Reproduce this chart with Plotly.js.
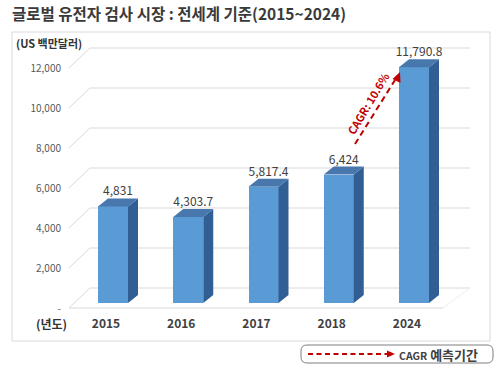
<!DOCTYPE html>
<html>
<head>
<meta charset="utf-8">
<script src="https://cdn.plot.ly/plotly-3.0.1.min.js"></script>
<style>html,body{margin:0;padding:0;background:#fff;}#chart{width:500px;height:371px;}</style>
</head>
<body>
<div id="chart"></div>
<script>
// ---- data ----
const years = ['2015', '2016', '2017', '2018', '2024'];
const values = [4831, 4303.7, 5817.4, 6424, 11790.8];
const valueLabels = ['4,831', '4,303.7', '5,817.4', '6,424', '11,790.8'];
const yTickVals = [0, 2000, 4000, 6000, 8000, 10000, 12000];
const yTickText = ['-', '2,000', '4,000', '6,000', '8,000', '10,000', '12,000'];
const titleText = '글로벌 유전자 검사 시장 : 전세계 기준(2015~2024)';
const unitText = '(US 백만달러)';
const yearText = '(년도)';
const cagrText = 'CAGR: 10.6%';
const legendText = '<span style="font-size:10.5px">CAGR</span> 예측기간';

// ---- geometry ----
const FW = 500, FH = 371;
const L = 62, R = 480, T = 40, B = 315;
const PW = R - L, PH = B - T;
const xPx = 75.25, x0Px = 113;      // px per category, px of first category center
const yPx = 0.02, y0Px = 303;       // px per unit, px of value 0
const pxToX = px => (px - x0Px) / xPx;
const pyToY = py => (y0Px - py) / yPx;
const pxToPaperX = px => (px - L) / PW;
const pyToPaperY = py => (B - py) / PH;

const xs = years.map((_, i) => i);
const barW = 30 / xPx;
const ddx = 10 / xPx, ddy = 8 / yPx;

const shapes = [];
// grid (3D wall + floor)
const gridColor = '#d9d9d9';
yTickVals.forEach(v => {
  const yFront = v - 5 / yPx;            // label level
  const yBack = v + 15 / yPx;            // back wall level
  shapes.push({type: 'line', xref: 'x', yref: 'y', layer: 'below',
    x0: pxToX(69), y0: yFront, x1: pxToX(90), y1: yBack, line: {color: gridColor, width: 1}});
  shapes.push({type: 'line', xref: 'x', yref: 'y', layer: 'below',
    x0: pxToX(90), y0: yBack, x1: pxToX(470), y1: yBack, line: {color: gridColor, width: 1}});
  if (v === 0) {
    shapes.push({type: 'line', xref: 'x', yref: 'y', layer: 'below',
      x0: pxToX(69), y0: yFront, x1: pxToX(443), y1: yFront, line: {color: gridColor, width: 1}});
    shapes.push({type: 'line', xref: 'x', yref: 'y', layer: 'below',
      x0: pxToX(443), y0: yFront, x1: pxToX(470), y1: yBack, line: {color: '#eeeeee', width: 1}});
  }
});
// 3D faces of bars
xs.forEach((x, i) => {
  const v = values[i];
  const xl = x - barW / 2, xr = x + barW / 2;
  shapes.push({type: 'path', xref: 'x', yref: 'y', layer: 'above', line: {width: 0},
    fillcolor: '#325f93',
    path: `M${xr},0 L${xr + ddx},${ddy} L${xr + ddx},${v + ddy} L${xr},${v} Z`});
  shapes.push({type: 'path', xref: 'x', yref: 'y', layer: 'above', line: {width: 0},
    fillcolor: '#4777ad',
    path: `M${xl},${v} L${xl + ddx},${v + ddy} L${xr + ddx},${v + ddy} L${xr},${v} Z`});
});
// outer frame
shapes.push({type: 'rect', xref: 'paper', yref: 'paper', layer: 'below',
  x0: pxToPaperX(12), x1: pxToPaperX(490), y0: pyToPaperY(32), y1: pyToPaperY(341),
  line: {color: '#d9d9d9', width: 1}});
// CAGR arrow in chart
const red = '#c00000';
shapes.push({type: 'line', xref: 'paper', yref: 'paper',
  x0: pxToPaperX(355), y0: pyToPaperY(144), x1: pxToPaperX(395), y1: pyToPaperY(80),
  line: {color: red, width: 2, dash: '6px,4px'}});
{
  const tx = 400, ty = 72;
  const p1 = [tx, ty], p2 = [392.5, 79], p3 = [400.5, 83];
  const pt = p => `${pxToPaperX(p[0])},${pyToPaperY(p[1])}`;
  shapes.push({type: 'path', xref: 'paper', yref: 'paper', line: {width: 0}, fillcolor: red,
    path: `M${pt(p1)} L${pt(p2)} L${pt(p3)} Z`});
}
// legend box (rounded)
{
  const x0 = 301, x1 = 493, y0 = 345, y1 = 363, r = 6;
  const pt = (x, y) => `${pxToPaperX(x)},${pyToPaperY(y)}`;
  const path = `M${pt(x0 + r, y0)} L${pt(x1 - r, y0)} Q${pt(x1, y0)} ${pt(x1, y0 + r)} L${pt(x1, y1 - r)} Q${pt(x1, y1)} ${pt(x1 - r, y1)} L${pt(x0 + r, y1)} Q${pt(x0, y1)} ${pt(x0, y1 - r)} L${pt(x0, y0 + r)} Q${pt(x0, y0)} ${pt(x0 + r, y0)} Z`;
  shapes.push({type: 'path', xref: 'paper', yref: 'paper', line: {color: '#7f7f7f', width: 1}, path: path});
  shapes.push({type: 'line', xref: 'paper', yref: 'paper',
    x0: pxToPaperX(308), y0: pyToPaperY(354), x1: pxToPaperX(388), y1: pyToPaperY(354),
    line: {color: red, width: 2, dash: '5px,3.5px'}});
  shapes.push({type: 'path', xref: 'paper', yref: 'paper', line: {width: 0}, fillcolor: red,
    path: `M${pt(395, 354)} L${pt(387, 350.5)} L${pt(387, 357.5)} Z`});
}

const fontFam = '"Noto Sans CJK KR", "Noto Sans", sans-serif';
const annotations = [
  {text: unitText, xref: 'paper', yref: 'paper', x: pxToPaperX(14), y: pyToPaperY(43),
   xanchor: 'left', yanchor: 'middle', showarrow: false,
   font: {family: fontFam, size: 11, color: '#333333', weight: 700}},
  {text: yearText, xref: 'paper', yref: 'paper', x: pxToPaperX(51), y: pyToPaperY(323),
   xanchor: 'center', yanchor: 'middle', showarrow: false,
   font: {family: fontFam, size: 12, color: '#333333', weight: 700}},
  {text: cagrText, xref: 'paper', yref: 'paper', x: pxToPaperX(368), y: pyToPaperY(103),
   xanchor: 'center', yanchor: 'middle', showarrow: false, textangle: -59,
   font: {family: fontFam, size: 11, color: red, weight: 700}},
  {text: legendText, xref: 'paper', yref: 'paper', x: pxToPaperX(397), y: pyToPaperY(354),
   xanchor: 'left', yanchor: 'middle', showarrow: false,
   font: {family: fontFam, size: 13, color: '#404040', weight: 700}}
];

const traces = [
  {type: 'bar', x: xs, y: values, width: barW,
   marker: {color: '#5b9bd5', line: {width: 0}}, hoverinfo: 'skip'},
  {type: 'scatter', mode: 'text', x: xs.map(x => x + ddx / 2), y: values.map(v => v + ddy),
   text: valueLabels, textposition: 'top center', cliponaxis: false,
   textfont: {family: fontFam, size: 12, color: '#404040'}, hoverinfo: 'skip'}
];

const layout = {
  width: FW, height: FH,
  margin: {l: L, r: FW - R, t: T, b: FH - B, pad: 0},
  paper_bgcolor: '#ffffff', plot_bgcolor: 'rgba(0,0,0,0)',
  showlegend: false,
  title: {text: titleText, xref: 'container', yref: 'container', x: 12 / FW, xanchor: 'left',
          y: 1 - 15 / FH, yanchor: 'middle',
          font: {family: fontFam, size: 15.5, color: '#3a3a3a', weight: 700}},
  xaxis: {range: [pxToX(L), pxToX(R)], tickvals: xs, ticktext: years, showgrid: false,
          zeroline: false, showline: false, ticks: '', ticklabelshift: -7, ticklabelstandoff: 0,
          tickfont: {family: fontFam, size: 12, color: '#404040', weight: 700}, fixedrange: true},
  yaxis: {range: [pyToY(B), pyToY(T)], tickvals: yTickVals, ticktext: yTickText, showgrid: false,
          zeroline: false, showline: false, ticks: '', ticklabelshift: 5,
          tickfont: {family: fontFam, size: 10, color: '#595959'}, fixedrange: true},
  shapes: shapes,
  annotations: annotations,
  bargap: 0
};

Plotly.newPlot('chart', traces, layout, {displayModeBar: false, staticPlot: true});
</script>
</body>
</html>
